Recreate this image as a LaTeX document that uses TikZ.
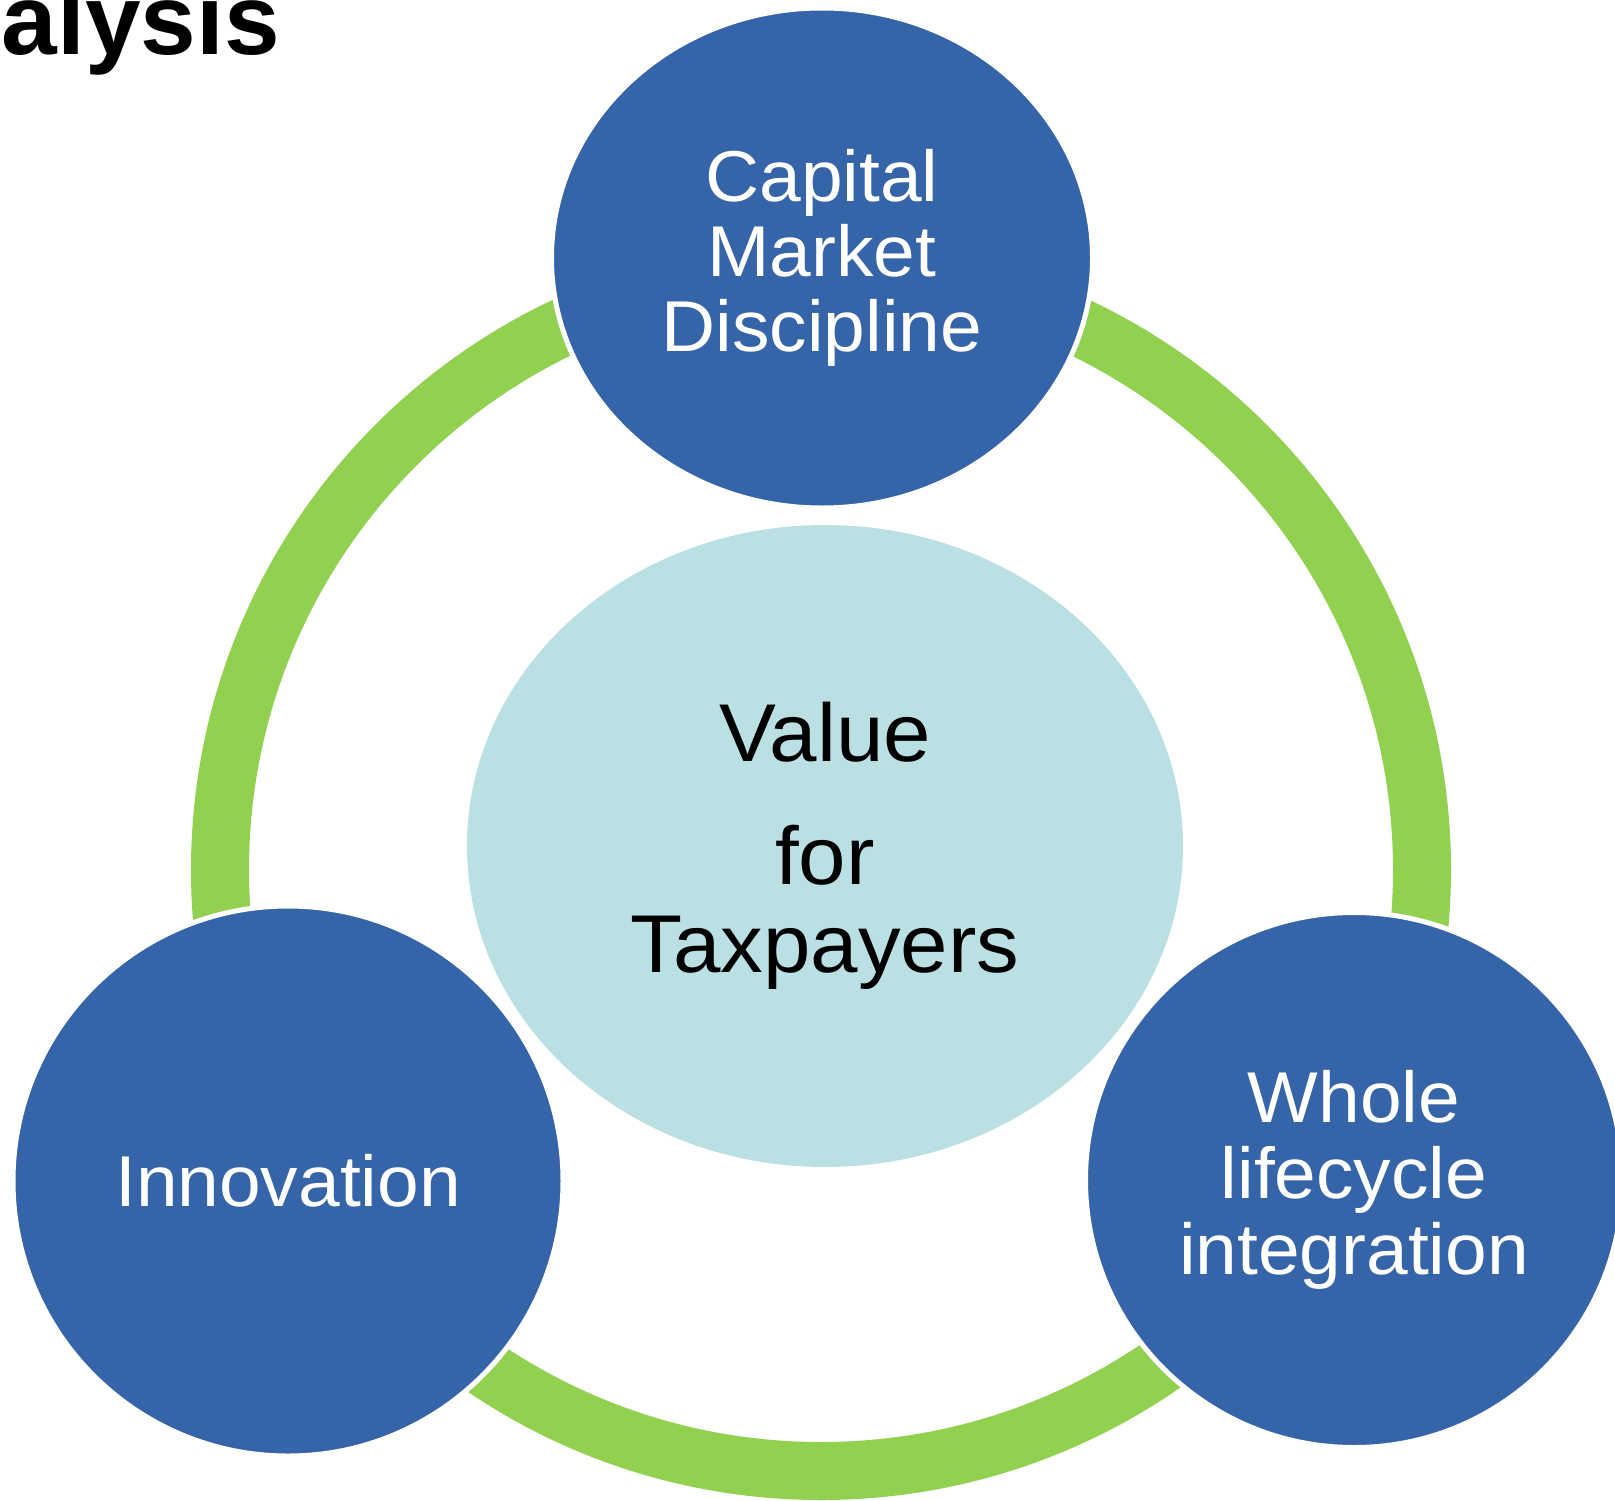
\documentclass[tikz,border=0pt]{standalone}
\usepackage{fontspec}
\setmainfont[FakeStretch=1.04]{Liberation Sans}
\newfontfamily\headingfont{Liberation Sans}
\usetikzlibrary{shapes.geometric}
\definecolor{pillarblue}{RGB}{54,100,168}
\definecolor{corecyan}{RGB}{187,224,228}
\definecolor{ringgreen}{RGB}{146,208,80}
\begin{document}
\begin{tikzpicture}
      [x=1pt, y=-1pt,
      pillar/.style={ellipse, fill=pillarblue, draw=white, line width=5pt,
        text=white, inner sep=0pt, align=center,
        font=\fontsize{72}{75}\selectfont},
      core/.style={ellipse, fill=corecyan, inner sep=0pt, align=center,
        font=\fontsize{82}{88}\selectfont},
      ring/.style={draw=ringgreen, line width=58pt}]
      \useasboundingbox (0,0) rectangle (1615,1501);
      \clip (0,0) rectangle (1615,1501);
      \draw[ring] (821,870) circle[radius=601pt];
      \node[core, minimum width=716pt, minimum height=642pt] (core) at (825,846)
        {Value\\[35pt]for\\Taxpayers};
      \node[pillar, minimum width=541pt, minimum height=500pt] (capital) at (822,258)
        {Capital\\Market\\Discipline};
      \node[pillar, minimum width=550pt, minimum height=550pt] (innovation) at (288,1181)
        {Innovation};
      \node[pillar, minimum width=537pt, minimum height=535pt,
        font=\fontsize{72}{76}\selectfont] (lifecycle) at (1354,1180)
        {Whole\\lifecycle\\integration};
      \node[anchor=base east, inner sep=0pt,
        font=\headingfont\fontsize{100}{100}\selectfont\bfseries] (title) at (280,55) {alysis};
    \end{tikzpicture}
\end{document}
